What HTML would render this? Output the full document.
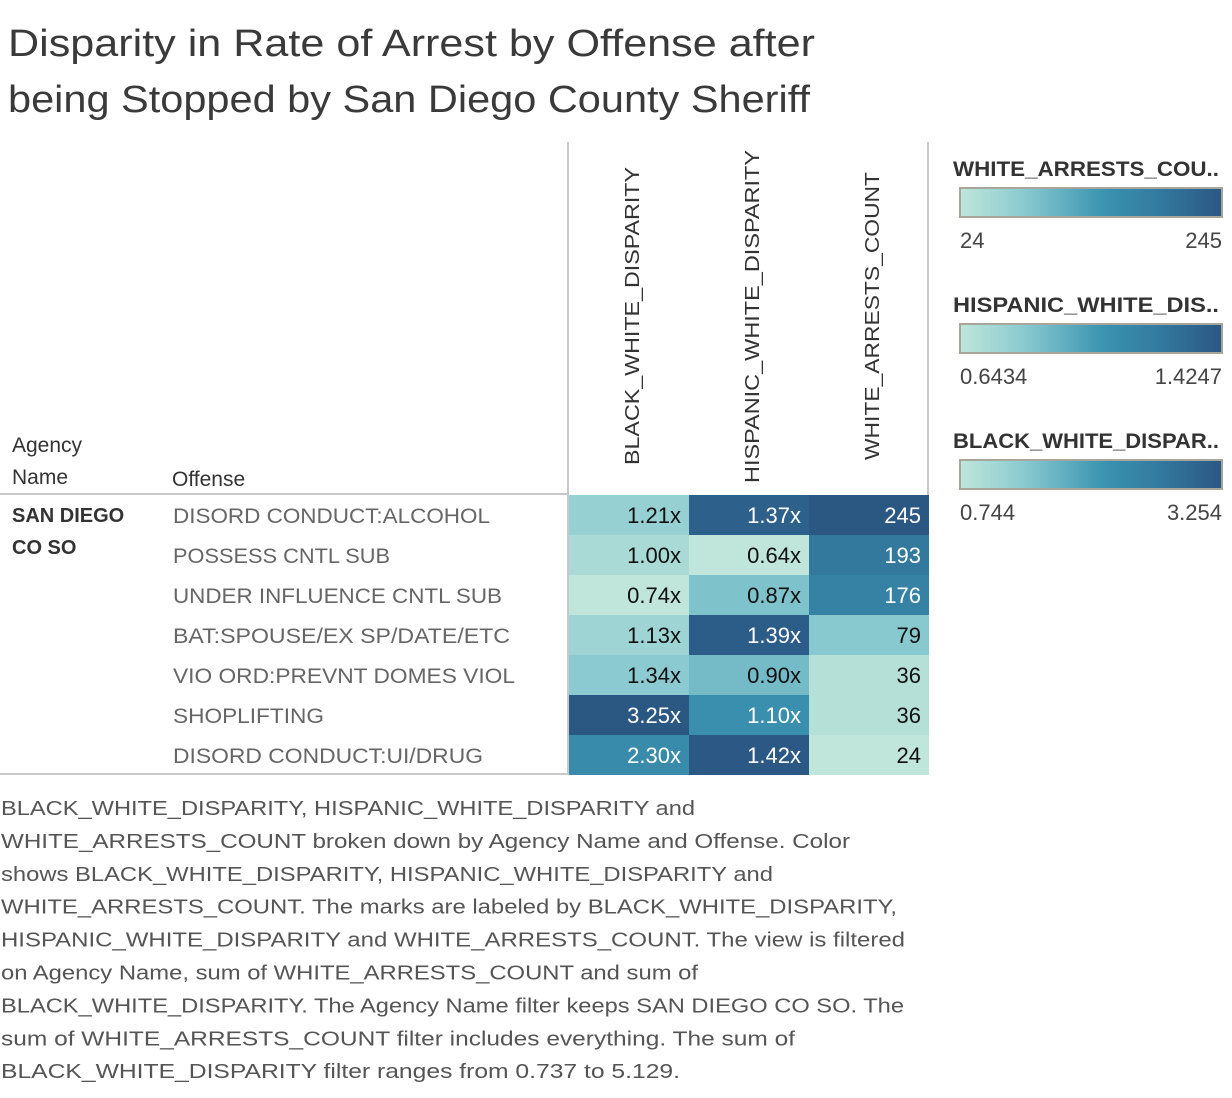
<!DOCTYPE html>
<html><head><meta charset="utf-8"><style>
html,body{margin:0;padding:0;background:#fff;}
svg{display:block;font-family:"Liberation Sans",sans-serif;}
</style></head><body>
<svg id="chart" width="1232" height="1098" viewBox="0 0 1232 1098">
<g fill="#3a3a3a" font-size="38">
<text x="8" y="56" textLength="807" lengthAdjust="spacingAndGlyphs">Disparity in Rate of Arrest by Offense after</text>
<text x="8" y="112" textLength="802" lengthAdjust="spacingAndGlyphs">being Stopped by San Diego County Sheriff</text>
</g>
<g stroke="#c8c8c8" stroke-width="2">
<line x1="568" y1="142" x2="568" y2="775"/>
<line x1="928" y1="142" x2="928" y2="775"/>
<line x1="0" y1="494" x2="568" y2="494"/>
<line x1="0" y1="774" x2="929" y2="774"/>
</g>
<g font-size="21" fill="#333">
<text x="12" y="452">Agency</text>
<text x="12" y="484">Name</text>
<text x="172" y="486">Offense</text>
<text x="12" y="522" font-weight="bold" font-size="20">SAN DIEGO</text>
<text x="12" y="554" font-weight="bold" font-size="20">CO SO</text>
</g>
<g id="colheads" font-size="20" fill="#333"></g>
<g id="offenses" font-size="21" fill="#666"></g>
<g id="cells"></g>
<g id="legends"></g>
<g font-size="20" fill="#555" id="caption"></g>
</svg>
<script>
const offenses=["DISORD CONDUCT:ALCOHOL","POSSESS CNTL SUB","UNDER INFLUENCE CNTL SUB","BAT:SPOUSE/EX SP/DATE/ETC","VIO ORD:PREVNT DOMES VIOL","SHOPLIFTING","DISORD CONDUCT:UI/DRUG"];
const blackWhite=[1.21,1.00,0.74,1.13,1.34,3.25,2.30];
const hispanicWhite=[1.37,0.64,0.87,1.39,0.90,1.10,1.42];
const whiteArrests=[245,193,176,79,36,36,24];
const columnNames=["BLACK_WHITE_DISPARITY","HISPANIC_WHITE_DISPARITY","WHITE_ARRESTS_COUNT"];
const legendTitles=["WHITE_ARRESTS_COU..","HISPANIC_WHITE_DIS..","BLACK_WHITE_DISPAR.."];
const legendMin=["24","0.6434","0.744"];
const legendMax=["245","1.4247","3.254"];
const captionLines=["BLACK_WHITE_DISPARITY, HISPANIC_WHITE_DISPARITY and","WHITE_ARRESTS_COUNT broken down by Agency Name and Offense.  Color","shows BLACK_WHITE_DISPARITY, HISPANIC_WHITE_DISPARITY and","WHITE_ARRESTS_COUNT.  The marks are labeled by BLACK_WHITE_DISPARITY,","HISPANIC_WHITE_DISPARITY and WHITE_ARRESTS_COUNT. The view is filtered","on Agency Name, sum of WHITE_ARRESTS_COUNT and sum of","BLACK_WHITE_DISPARITY. The Agency Name filter keeps SAN DIEGO CO SO. The","sum of WHITE_ARRESTS_COUNT filter includes everything. The sum of","BLACK_WHITE_DISPARITY filter ranges from 0.737 to 5.129."];
const NS="http://www.w3.org/2000/svg";
function mk(tag,attrs,parent,txt){const e=document.createElementNS(NS,tag);for(const k in attrs)e.setAttribute(k,attrs[k]);if(txt!==undefined)e.textContent=txt;parent.appendChild(e);return e;}
const stops=[[0,[192,230,219]],[0.25,[136,201,207]],[0.55,[58,147,176]],[0.75,[51,123,160]],[1,[43,87,131]]];
function color(t){t=Math.max(0,Math.min(1,t));for(let i=1;i<stops.length;i++){if(t<=stops[i][0]){const a=stops[i-1],b=stops[i];const f=(t-a[0])/(b[0]-a[0]);const c=a[1].map((v,j)=>Math.round(v+(b[1][j]-v)*f));return `rgb(${c})`;}}return "rgb(43,87,131)";}
const rowY=i=>495+i*40;
const colX=j=>569+j*120;
const chLen=[298,333,288],chBot=[465,483,460],chX=[639,759,879];
const ch=document.getElementById('colheads');
columnNames.forEach((n,j)=>{const t=mk('text',{x:0,y:0,transform:`translate(${chX[j]},${chBot[j]}) rotate(-90)`,textLength:chLen[j],lengthAdjust:"spacingAndGlyphs"},ch,n);

});
const offW=[317,217,329,337,342,151,310];
const og=document.getElementById('offenses');
offenses.forEach((o,i)=>{const t=mk('text',{x:173,y:rowY(i)+28,textLength:offW[i],lengthAdjust:'spacingAndGlyphs'},og,o);

});
const series=[blackWhite,hispanicWhite,whiteArrests];
const cg=document.getElementById('cells');
series.forEach((vals,j)=>{const mn=parseFloat(legendMin[2-j]),mx=parseFloat(legendMax[2-j]);
vals.forEach((v,i)=>{const tt=(v-mn)/(mx-mn);
const r=mk('rect',{x:colX(j),y:rowY(i),width:120,height:40,fill:color(tt)},cg);


const lbl=j<2?v.toFixed(2)+"x":String(v);
const t=mk('text',{x:colX(j)+112,y:rowY(i)+28,'text-anchor':'end','font-size':22,fill:tt>0.5?'#fff':'#111'},cg,lbl);

});});
const lg=document.getElementById('legends');
const defs=mk('defs',{},lg);const gr=mk('linearGradient',{id:'grad',x1:0,x2:1,y1:0,y2:0},defs);
stops.forEach(s=>mk('stop',{offset:s[0],'stop-color':`rgb(${s[1]})`},gr));
legendTitles.forEach((tl,k)=>{const y0=136*k;
const t=mk('text',{x:953,y:176+y0,'font-size':21,'font-weight':'bold',fill:'#333',textLength:266,lengthAdjust:'spacingAndGlyphs'},lg,tl);


const r=mk('rect',{x:960,y:188+y0,width:262,height:29,fill:'url(#grad)',stroke:'#a8a59c','stroke-width':2},lg);


const a=mk('text',{x:960,y:248+y0,'font-size':22,fill:'#444'},lg,legendMin[k]);


const b=mk('text',{x:1222,y:248+y0,'font-size':22,fill:'#444','text-anchor':'end'},lg,legendMax[k]);

});
const capW=[695,850,773,897,905,698,904,795,680];
const cap=document.getElementById('caption');
captionLines.forEach((l,i)=>{mk('text',{x:1,y:815+i*32.9,textLength:capW[i]-1,lengthAdjust:'spacingAndGlyphs'},cap,l);});
</script>
</body></html>
